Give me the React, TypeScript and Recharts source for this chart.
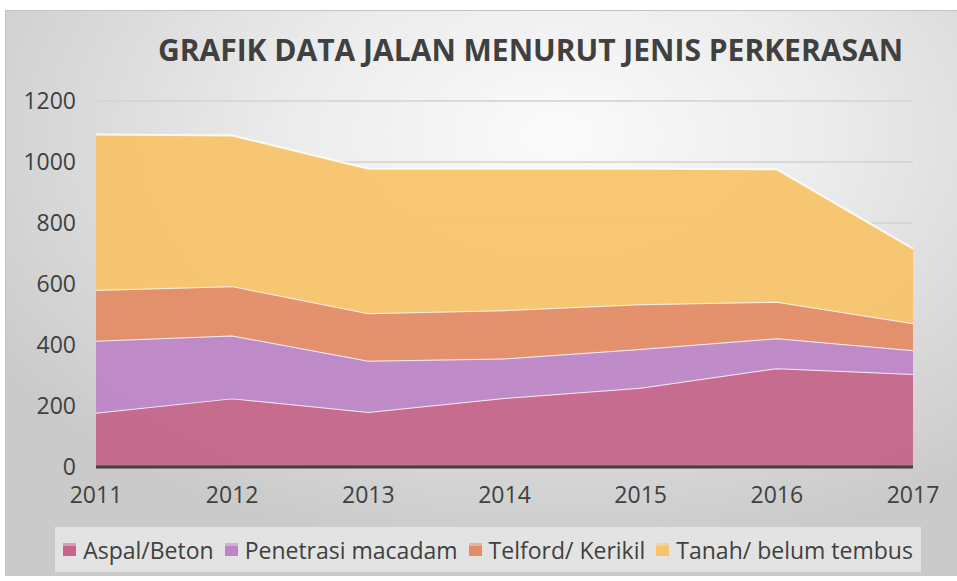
import React from 'react';
import { AreaChart, Area, XAxis, YAxis, CartesianGrid } from 'recharts';

const years = ['2011', '2012', '2013', '2014', '2015', '2016', '2017'];
const aspalBeton = [178, 225, 180, 226, 260, 324, 305];
const penetrasiMacadam = [236, 206, 168, 130, 127, 98, 78];
const telfordKerikil = [166, 162, 156, 158, 147, 120, 88];
const tanahBelumTembus = [510, 494, 474, 464, 444, 434, 245];
const yTicks = [0, 200, 400, 600, 800, 1000, 1200];

const series = [
  { key: 'aspal', name: 'Aspal/Beton', color: '#C5668A' },
  { key: 'penetrasi', name: 'Penetrasi macadam', color: '#BC85C6' },
  { key: 'telford', name: 'Telford/ Kerikil', color: '#E38C66' },
  { key: 'tanah', name: 'Tanah/ belum tembus', color: '#F6C46A' },
];

const data = years.map((year, i) => ({
  year,
  aspal: aspalBeton[i],
  penetrasi: penetrasiMacadam[i],
  telford: telfordKerikil[i],
  tanah: tanahBelumTembus[i],
}));

const FONT = '"Open Sans", "Noto Sans", sans-serif';
const TEXT = '#404040';

// legenda di bawah, kotak abu-abu terang
const LegendBox = () => (
  <div
    style={{
      position: 'absolute',
      left: 49,
      top: 516,
      width: 866,
      height: 45,
      display: 'flex',
      alignItems: 'center',
      justifyContent: 'center',
      background: '#e3e3e3',
      fontFamily: FONT,
      fontSize: 23,
      color: TEXT,
      whiteSpace: 'nowrap',
    }}
  >
    {series.map((s, i) => (
      <span
        key={s.key}
        style={{ display: 'inline-flex', alignItems: 'center', marginRight: i < series.length - 1 ? 11 : 0 }}
      >
        <span
          style={{
            display: 'inline-block',
            width: 13,
            height: 13,
            marginRight: 7,
            background: `linear-gradient(${s.color}88 0 25%, ${s.color} 25%)`,
          }}
        />
        {s.name}
      </span>
    ))}
  </div>
);

const App: React.FC = () => {
  return (
    <div style={{ position: 'absolute', left: 0, top: 0, width: 957, height: 581, background: '#fff' }}>
      <div
        style={{
          position: 'absolute',
          left: 5,
          top: 10,
          width: 952,
          height: 566,
          boxSizing: 'border-box',
          borderTop: '1px solid #c4c4c4',
          borderLeft: '1px solid #c4c4c4',
          background: 'radial-gradient(ellipse 70% 75% at 58% 22%, #fbfbfb 0%, #ececec 40%, #d8d8d8 75%, #cacaca 100%)',
          overflow: 'hidden',
        }}
      >
        {/* judul */}
        <div
          style={{
            position: 'absolute',
            left: 152,
            top: 18,
            fontFamily: FONT,
            fontWeight: 700,
            fontSize: 30,
            color: TEXT,
            whiteSpace: 'nowrap',
          }}
        >
          GRAFIK DATA JALAN MENURUT JENIS PERKERASAN
        </div>
        <div style={{ position: 'absolute', left: -1, top: -1 }}>
          <AreaChart width={952} height={566} data={data} margin={{ top: 91, right: 44, bottom: 79, left: 0 }}>
            <CartesianGrid horizontal vertical={false} stroke="#d2d2d2" strokeWidth={1.5} />
            <XAxis
              dataKey="year"
              height={30}
              tickLine={false}
              tickSize={0}
              tickMargin={20}
              axisLine={{ stroke: '#404040', strokeWidth: 3 }}
              tick={{ fill: TEXT, fontSize: 23, fontFamily: FONT }}
              interval={0}
            />
            <YAxis
              width={91}
              domain={[0, 1200]}
              ticks={yTicks}
              axisLine={false}
              tickLine={false}
              tickSize={0}
              tickMargin={20}
              tick={{ fill: TEXT, fontSize: 23, fontFamily: FONT }}
            />
            {series.map((s) => (
              <Area
                key={s.key}
                type="linear"
                dataKey={s.key}
                name={s.name}
                stackId="1"
                fill={s.color}
                fillOpacity={0.94}
                stroke="#ffffff"
                strokeOpacity={0.85}
                strokeWidth={2}
                isAnimationActive={false}
              />
            ))}
          </AreaChart>
        </div>
        <LegendBox />
      </div>
    </div>
  );
};

export default App;
